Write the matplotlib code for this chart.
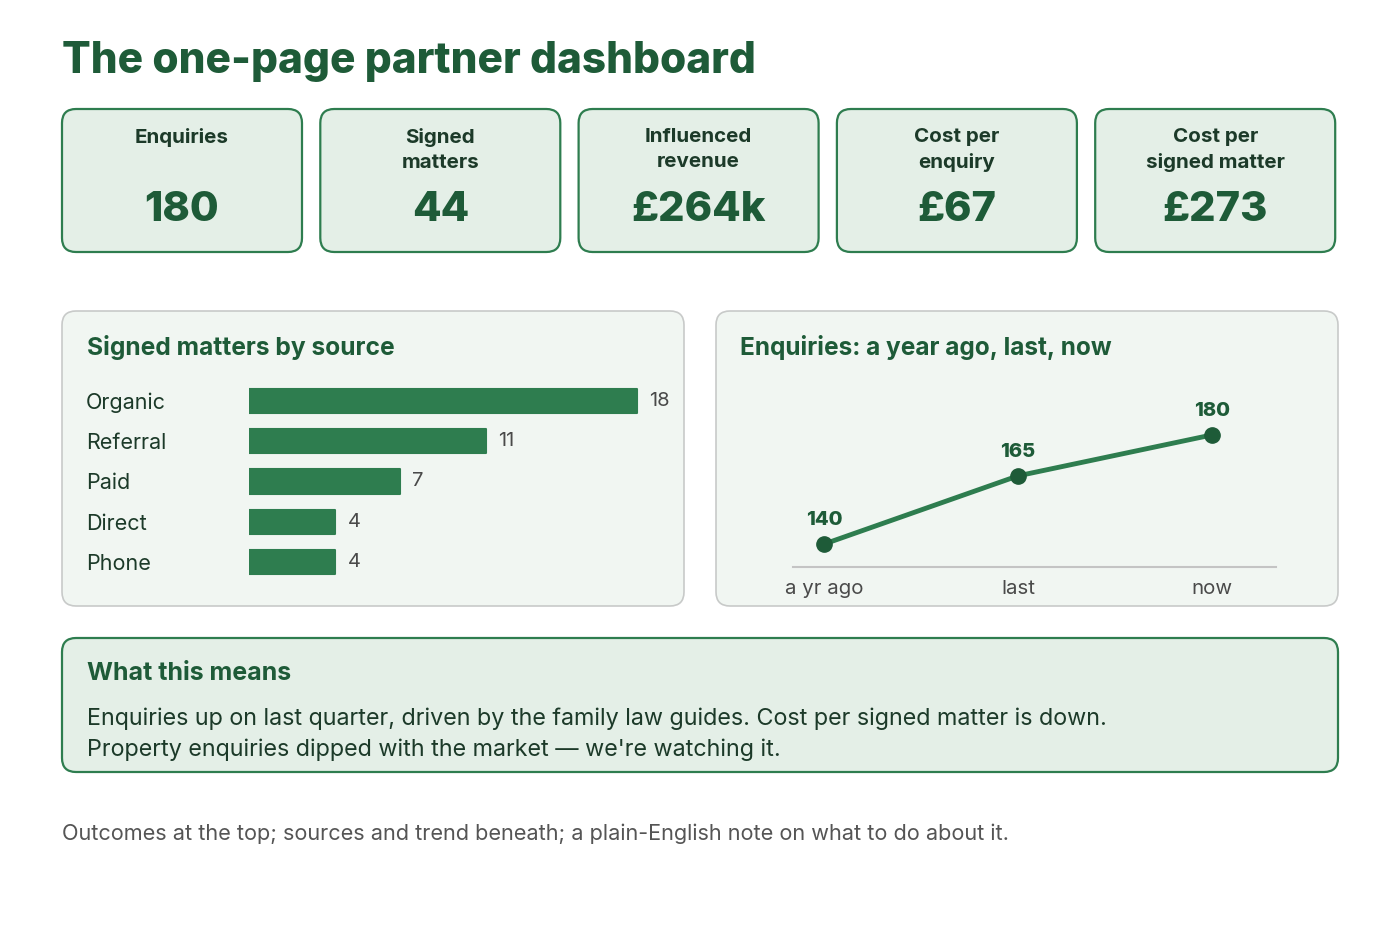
import matplotlib
matplotlib.use("Agg")
import matplotlib.pyplot as plt
from matplotlib.patches import FancyBboxPatch

plt.rcParams['font.family'] = ['Inter', 'DejaVu Sans']

W, H = 1400, 933
DARK = "#1e5b38"
BAR = "#2e7d4f"
CARD_BG = "#e4efe7"
PANEL_BG = "#f1f6f2"
PANEL_EDGE = "#c8cac9"
INK = "#1c3a29"
GREY = "#4a4a4a"

kpi_labels = ["Enquiries", "Signed\nmatters", "Influenced\nrevenue", "Cost per\nenquiry", "Cost per\nsigned matter"]
kpi_values = ["180", "44", "£264k", "£67", "£273"]

sources = ["Organic", "Referral", "Paid", "Direct", "Phone"]
signed = [18, 11, 7, 4, 4]

periods = ["a yr ago", "last", "now"]
enquiries = [140, 165, 180]

note_title = "What this means"
note_lines = ["Enquiries up on last quarter, driven by the family law guides. Cost per signed matter is down.",
              "Property enquiries dipped with the market \u2014 we're watching it."]
footnote = "Outcomes at the top; sources and trend beneath; a plain-English note on what to do about it."


def px_axes(fig, x0, y0, x1, y1):
    return fig.add_axes([x0 / W, 1 - y1 / H, (x1 - x0) / W, (y1 - y0) / H])


def box(ax, x0, y0, x1, y1, fc, ec, lw=1.5, r=14):
    ax.add_patch(FancyBboxPatch((x0 + r, y0 + r), x1 - x0 - 2 * r, y1 - y0 - 2 * r,
                                boxstyle=f"round,pad={r}", fc=fc, ec=ec, lw=lw))


fig = plt.figure(figsize=(W / 100, H / 100), dpi=100)
bg = fig.add_axes([0, 0, 1, 1])
bg.set_xlim(0, W)
bg.set_ylim(H, 0)
bg.axis("off")

bg.text(62, 61, "The one-page partner dashboard", fontsize=30.5, fontweight="heavy",
        color=DARK, va="center", ha="left")

# KPI cards
card_w, gap = 240, 18.3
for i, (lab, val) in enumerate(zip(kpi_labels, kpi_values)):
    x0 = 62 + i * (card_w + gap)
    box(bg, x0, 109, x0 + card_w, 252, CARD_BG, BAR, lw=1.6)
    cx = x0 + card_w / 2
    bg.text(cx, 128, lab, fontsize=14.8, fontweight="bold", color=INK,
            ha="center", va="top", linespacing=1.5)
    bg.text(cx, 210, val, fontsize=30, fontweight="heavy", color=DARK,
            ha="center", va="center")

# chart panels
box(bg, 62, 311, 684, 606, PANEL_BG, PANEL_EDGE, lw=1.2)
box(bg, 716, 311, 1338, 606, PANEL_BG, PANEL_EDGE, lw=1.2)
bg.text(87, 348, "Signed matters by source", fontsize=17.7, fontweight="bold",
        color=DARK, va="center")
bg.text(740, 348, "Enquiries: a year ago, last, now", fontsize=17.6, fontweight="bold",
        color=DARK, va="center")

# bars
ax1 = px_axes(fig, 249, 381, 680, 582)
ax1.barh(range(len(sources)), signed, height=0.6, color=BAR, edgecolor=BAR,
         linewidth=1.5, joinstyle="round")
ax1.set_xlim(0, 20)
ax1.set_ylim(len(sources) - 0.5, -0.5)
ax1.set_yticks(range(len(sources)))
ax1.set_yticklabels(sources, ha="left", fontsize=15.5, color=INK)
ax1.tick_params(axis="y", length=0, pad=117.5)
ax1.set_xticks([])
for s in ax1.spines.values():
    s.set_visible(False)
ax1.patch.set_alpha(0)
for i, v in enumerate(signed):
    ax1.annotate(str(v), (v, i), xytext=(9, 0), textcoords="offset points",
                 va="center", ha="left", fontsize=14.5, color=GREY)

# line
ax2 = px_axes(fig, 793, 400, 1276, 567)
xs = range(len(periods))
ax2.plot(xs, enquiries, color=BAR, lw=3.5, marker="o", ms=11,
         mfc=DARK, mec=DARK, solid_capstyle="round")
ax2.set_xlim(-0.16, 2.33)
ax2.set_ylim(131.6, 192.8)
ax2.set_xticks(list(xs))
ax2.set_xticklabels(periods, fontsize=14.7, color=GREY)
ax2.tick_params(axis="x", length=0, pad=9)
ax2.set_yticks([])
for k in ("top", "left", "right"):
    ax2.spines[k].set_visible(False)
ax2.spines["bottom"].set_color("#c4c4c4")
ax2.spines["bottom"].set_linewidth(1.5)
ax2.patch.set_alpha(0)
for x, y in zip(xs, enquiries):
    ax2.annotate(str(y), (x, y), xytext=(0, 11), textcoords="offset points",
                 ha="center", va="bottom", fontsize=14.5, fontweight="heavy", color=DARK)

# note
box(bg, 62, 638, 1338, 772, CARD_BG, BAR, lw=1.6)
bg.text(87, 674, note_title, fontsize=18, fontweight="bold", color=DARK, va="center")
for j, line in enumerate(note_lines):
    bg.text(87, 719 + j * 31, line, fontsize=16.8, color=INK, va="center")

bg.text(62, 834, footnote, fontsize=15.6, color="#555555", va="center")

fig.savefig("out.png", dpi=100, facecolor="white")
